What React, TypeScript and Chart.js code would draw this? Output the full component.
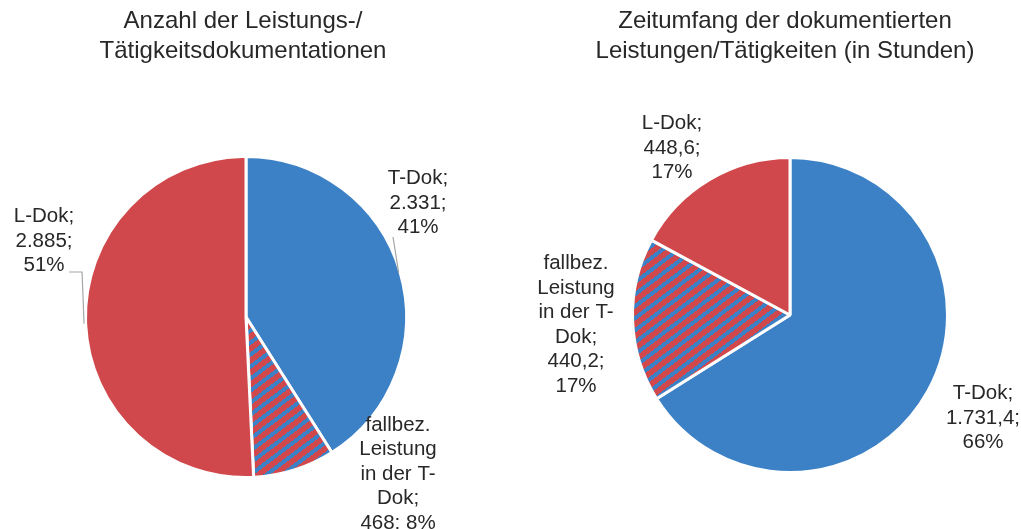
import React, { useEffect, useRef } from "react";
import { Chart, registerables } from "chart.js";

Chart.register(...registerables);

// ---------- data ----------
const categories = ["T-Dok", "fallbez. Leistung in der T-Dok", "L-Dok"];
const countValues = [2331, 468, 2885];
const hourValues = [1731.4, 440.2, 448.6];
const countTitle = ["Anzahl der Leistungs-/", "Tätigkeitsdokumentationen"];
const hourTitle = ["Zeitumfang der dokumentierten", "Leistungen/Tätigkeiten (in Stunden)"];
const countLabels = [
  ["T-Dok;", "2.331;", "41%"],
  ["fallbez.", "Leistung", "in der T-", "Dok;", "468; 8%"],
  ["L-Dok;", "2.885;", "51%"],
];
const hourLabels = [
  ["T-Dok;", "1.731,4;", "66%"],
  ["fallbez.", "Leistung", "in der T-", "Dok;", "440,2;", "17%"],
  ["L-Dok;", "448,6;", "17%"],
];

// ---------- styles ----------
const BLUE = "#3C80C5";
const RED = "#D0484B";
const TEXT = "#282828";
const LEADER = "#A6A6A6";
const FONT = '"Liberation Sans", Arial, sans-serif';
const W = 1021;
const H = 529;

function makePattern(): CanvasPattern | string {
  const tw = 16;
  const th = 12;
  const t = document.createElement("canvas");
  t.width = tw;
  t.height = th;
  const c = t.getContext("2d");
  if (!c) return RED;
  c.fillStyle = RED;
  c.fillRect(0, 0, tw, th);
  c.fillStyle = BLUE;
  for (let x = 0; x < tw; x++) {
    for (let y = 0; y < th; y++) {
      const f = ((x + 0.5) / tw + (y + 0.5) / th) % 1;
      if (f < 0.42) c.fillRect(x, y, 1, 1);
    }
  }
  const p = c.createPattern(t, "repeat");
  return p || RED;
}

type LabelCfg = {
  off: [number, number]; // label block center relative to pie center (px)
  leader?: "straight" | "elbow";
  end?: [number, number]; // leader end relative to label center
};

type PieCfg = {
  values: number[];
  labels: string[][];
  title: string[];
  titleX: number;
  center: [number, number];
  radius: number; // visible radius
  labelCfg: LabelCfg[];
};

const leftCfg: PieCfg = {
  values: countValues,
  labels: countLabels,
  title: countTitle,
  titleX: 243,
  center: [246, 317],
  radius: 159,
  labelCfg: [
    { off: [172, -114], leader: "straight", end: [-25, 34] },
    { off: [152, 157] },
    { off: [-202, -76], leader: "elbow", end: [25, 31] },
  ],
};

const rightCfg: PieCfg = {
  values: hourValues,
  labels: hourLabels,
  title: hourTitle,
  titleX: 785,
  center: [790, 315],
  radius: 156,
  labelCfg: [
    { off: [193, 103] },
    { off: [-214, 10] },
    { off: [-118, -167] },
  ],
};

const BW = 3;
const LINE_H = 24.5;

function PieCanvas({ cfg }: { cfg: PieCfg }) {
  const ref = useRef<HTMLCanvasElement | null>(null);
  useEffect(() => {
    if (!ref.current) return;
    const [cx, cy] = cfg.center;
    const half = cfg.radius + 12;
    const labelPlugin = {
      id: "pieLabels",
      afterDraw(chart: any) {
        const ctx = chart.ctx as CanvasRenderingContext2D;
        ctx.save();
        // title
        ctx.fillStyle = TEXT;
        ctx.font = `24px ${FONT}`;
        ctx.textAlign = "center";
        ctx.textBaseline = "middle";
        cfg.title.forEach((t, i) => ctx.fillText(t, cfg.titleX, 21 + i * 30));
        // labels
        const meta = chart.getDatasetMeta(0);
        ctx.font = `20.5px ${FONT}`;
        meta.data.forEach((arc: any, i: number) => {
          const lc = cfg.labelCfg[i];
          const lines = cfg.labels[i];
          const lx = arc.x + lc.off[0];
          const ly = arc.y + lc.off[1];
          const n = lines.length;
          ctx.fillStyle = TEXT;
          lines.forEach((s, k) => ctx.fillText(s, lx, ly + (k - (n - 1) / 2) * LINE_H));
          if (lc.leader && lc.end) {
            const mid = (arc.startAngle + arc.endAngle) / 2;
            const r = arc.outerRadius - BW / 2;
            const ex = arc.x + Math.cos(mid) * r;
            const ey = arc.y + Math.sin(mid) * r;
            ctx.strokeStyle = LEADER;
            ctx.lineWidth = 1.2;
            ctx.beginPath();
            if (lc.leader === "straight") {
              ctx.moveTo(ex, ey);
              ctx.lineTo(lx + lc.end[0], ly + lc.end[1]);
            } else {
              const hy = ly + lc.end[1];
              ctx.moveTo(ex - 3, ey + 3);
              ctx.lineTo(ex - 5, hy);
              ctx.lineTo(lx + lc.end[0], hy);
            }
            ctx.stroke();
          }
        });
        ctx.restore();
      },
    };
    const chart = new Chart(ref.current, {
      type: "pie",
      data: {
        labels: categories,
        datasets: [
          {
            data: cfg.values,
            backgroundColor: [BLUE, makePattern() as any, RED],
            borderColor: "#FFFFFF",
            borderWidth: BW,
            hoverBorderWidth: BW,
            radius: cfg.radius + BW / 2,
          } as any,
        ],
      },
      options: {
        animation: false,
        responsive: false,
        maintainAspectRatio: false,
        events: [],
        layout: {
          padding: {
            left: cx - half,
            right: W - (cx + half),
            top: cy - half,
            bottom: H - (cy + half),
          },
        },
        plugins: {
          legend: { display: false },
          tooltip: { enabled: false },
          title: { display: false },
        },
      } as any,
      plugins: [labelPlugin],
    });
    return () => chart.destroy();
  }, [cfg]);
  return (
    <canvas
      ref={ref}
      width={W}
      height={H}
      style={{ position: "absolute", left: 0, top: 0, width: W, height: H }}
    />
  );
}

export default function App() {
  return (
    <div
      style={{
        position: "fixed",
        left: 0,
        top: 0,
        width: W,
        height: H,
        background: "#FFFFFF",
      }}
    >
      <PieCanvas cfg={leftCfg} />
      <PieCanvas cfg={rightCfg} />
    </div>
  );
}
